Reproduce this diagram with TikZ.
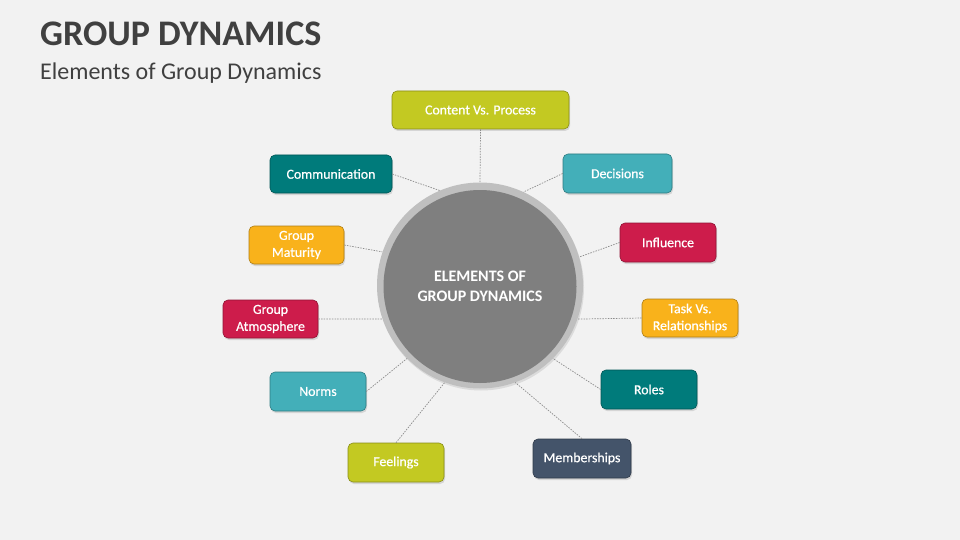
\documentclass[tikz,border=0pt]{standalone}
\usepackage{fontspec}
\setmainfont{Carlito}
\newfontfamily\boxfont[FakeBold=0.6]{Carlito}
\usetikzlibrary{shadows}
\definecolor{bg}{HTML}{F2F2F2}
\definecolor{titlec}{HTML}{404040}
\definecolor{lime}{HTML}{C3C922}
\definecolor{tealc}{HTML}{007B7B}
\definecolor{lteal}{HTML}{43AFB9}
\definecolor{crim}{HTML}{CD1C4B}
\definecolor{amber}{HTML}{F9B21B}
\definecolor{slate}{HTML}{44546A}
\definecolor{ringc}{HTML}{BFBFBF}
\definecolor{corec}{HTML}{7F7F7F}
\definecolor{linkc}{HTML}{8C8C8C}
\tikzset{
  elbox/.style={draw=#1!70!black, fill=#1, line width=0.6pt, rounded corners=5pt,
    text=white, font=\boxfont\fontsize{13.8}{17}\selectfont, align=center, inner sep=0pt,
    drop shadow={shadow xshift=1pt, shadow yshift=-2pt, opacity=0.25}},
  link/.style={draw=linkc, line width=0.7pt, dash pattern=on 1.5pt off 1.2pt},
}
\begin{document}
\begin{tikzpicture}[x=1pt,y=-1pt]
\fill[bg] (0,0) rectangle (960,540);
\useasboundingbox (0,0) rectangle (960,540);
\node[anchor=base west, text=titlec, font=\fontsize{36}{40}\selectfont\bfseries, inner sep=0pt] (title) at (40,46) {GROUP DYNAMICS};
\node[anchor=base west, text=titlec, font=\fontsize{24}{28}\selectfont, inner sep=0pt] (sub) at (40,80) {Elements of Group Dynamics};

% central circle
\node[circle, fill=ringc, minimum size=206pt, inner sep=0pt,
  drop shadow={shadow xshift=1pt, shadow yshift=-2pt, opacity=0.2}] (c) at (480,285.5) {};
\node[circle, fill=corec, minimum size=193pt, inner sep=0pt, text=white,
  font=\fontsize{16}{20}\selectfont\bfseries, align=center] (core) at (480,286.5) {ELEMENTS OF\\GROUP DYNAMICS};

% boxes
\node[elbox=lime, minimum width=177pt, minimum height=38pt] (content) at (480.5,110) {Content Vs. Process};
\node[elbox=tealc, minimum width=122pt, minimum height=38pt] (comm) at (331,174) {Communication};
\node[elbox=lteal, minimum width=109pt, minimum height=39pt] (dec) at (617.5,173.5) {Decisions};
\node[elbox=crim, minimum width=96pt, minimum height=39pt] (infl) at (668,242.5) {Influence};
\node[elbox=amber, minimum width=96pt, minimum height=38pt] (task) at (690,318) {Task Vs.\\Relationships};
\node[elbox=amber, minimum width=95pt, minimum height=38pt] (mat) at (296.5,245) {Group\\Maturity};
\node[elbox=crim, minimum width=95pt, minimum height=38pt] (atm) at (270.5,319) {Group\\Atmosphere};
\node[elbox=lteal, minimum width=96pt, minimum height=39pt] (norms) at (318,391.5) {Norms};
\node[elbox=lime, minimum width=96pt, minimum height=39pt] (feel) at (396,462.5) {Feelings};
\node[elbox=tealc, minimum width=96pt, minimum height=39pt] (roles) at (649,389.5) {Roles};
\node[elbox=slate, minimum width=98pt, minimum height=39pt] (memb) at (582,458.5) {Memberships};

% connectors
\draw[link] (content.south) -- (c.90);
\draw[link] (comm.east) -- (c.113);
\draw[link] (dec.west) -- (c.65);
\draw[link] (mat.east) -- (c.161);
\draw[link] (infl.west) -- (c.16);
\draw[link] (atm.east) -- (c.199);
\draw[link] (task.west) -- (c.341);
\draw[link] (norms.east) -- (c.225);
\draw[link] (feel.north) -- (c.250);
\draw[link] (roles.west) -- (c.315.6);
\draw[link] (memb.north) -- (c.290);
\end{tikzpicture}
\end{document}
